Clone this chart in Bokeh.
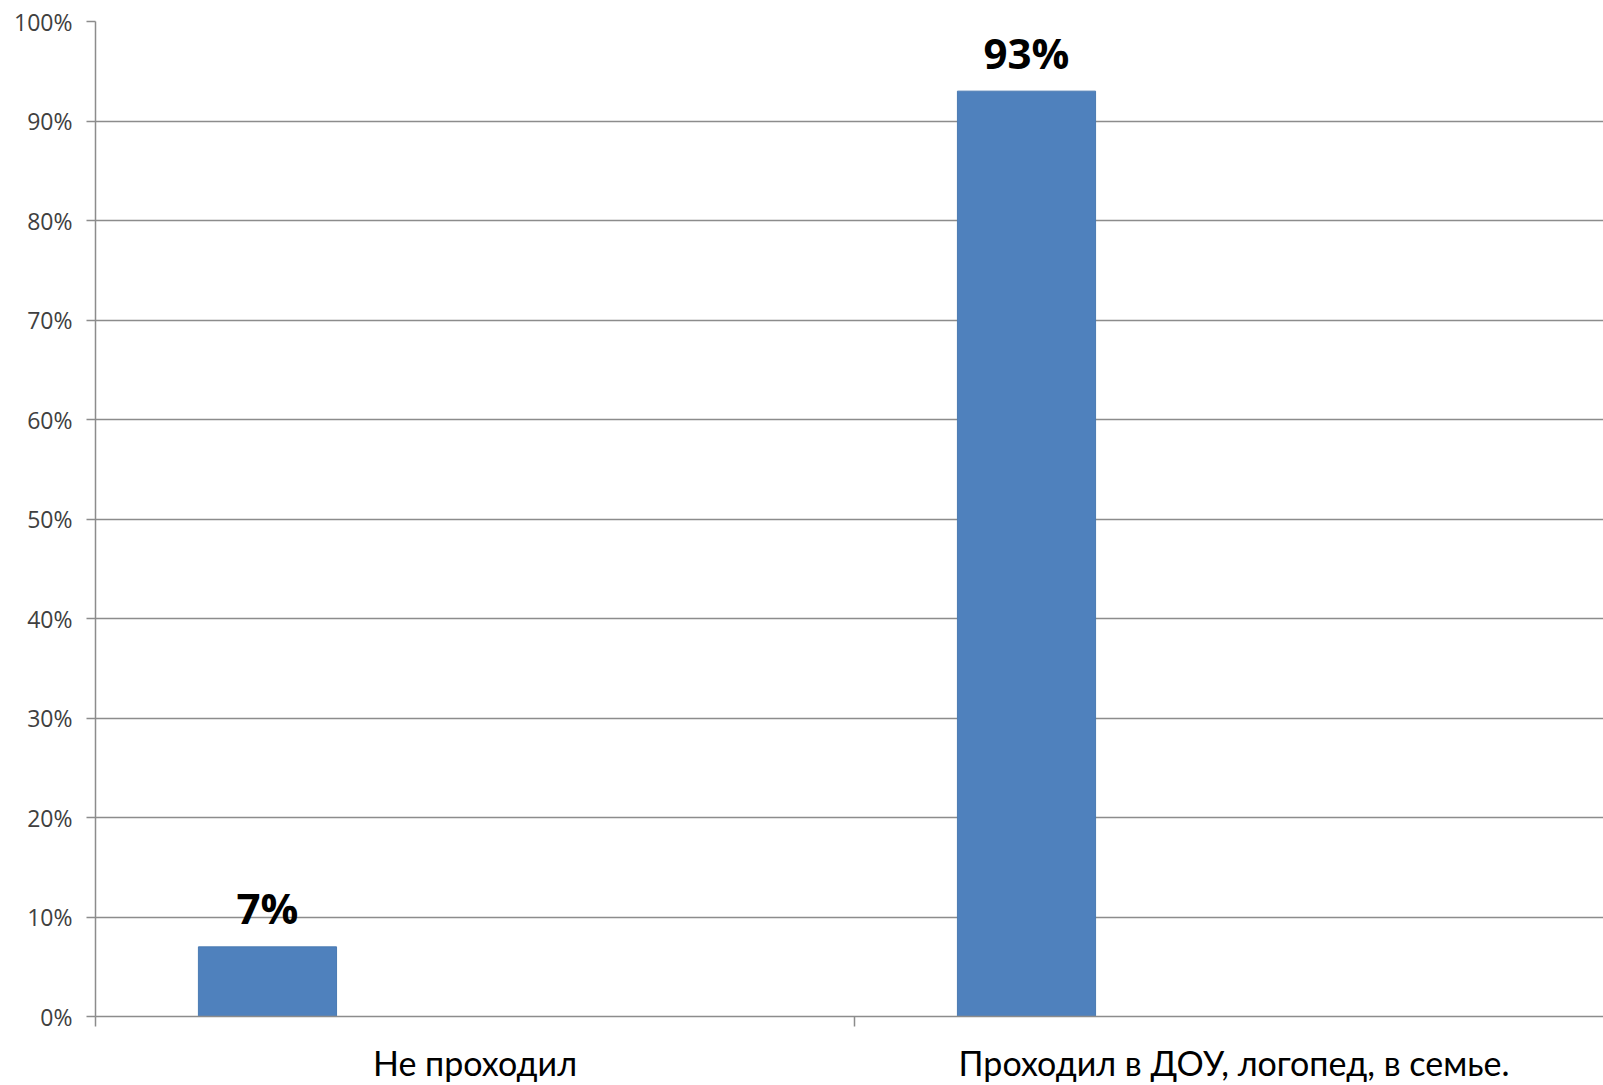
from bokeh.plotting import figure
from bokeh.models import ColumnDataSource, Range1d, FixedTicker, NumeralTickFormatter
from bokeh.core.properties import value
from bokeh.embed import file_html
from bokeh.resources import INLINE

categories = ["Не проходил", "Проходил в ДОУ, логопед, в семье."]
values = [0.07, 0.93]
labels = ["7%", "93%"]
y_ticks = [0.0, 0.1, 0.2, 0.3, 0.4, 0.5, 0.6, 0.7, 0.8, 0.9, 1.0]

cat_centers = [i + 0.5 for i in range(len(categories))]
bar_x = [i + 0.2266 for i in range(len(categories))]

src = ColumnDataSource(dict(x=bar_x, top=values, label=labels))

p = figure(width=1603, height=1085, output_backend="svg", toolbar_location=None,
           x_range=Range1d(0, 1.9868), y_range=Range1d(0, 1.0),
           min_border_left=95, min_border_right=0, min_border_top=21, min_border_bottom=68)
p.outline_line_color = None
p.background_fill_color = "white"

p.vbar(x="x", top="top", bottom=0, width=0.182, source=src,
       fill_color="#4F81BD", line_color="#4A7AB2", line_width=1)
p.text(x="x", y="top", text="label", source=src, text_align="center",
       text_baseline="alphabetic", y_offset=-39, text_font=value("Open Sans"),
       text_font_style="bold", text_font_size="42px", text_color="#000000")

# y axis
p.yaxis.ticker = FixedTicker(ticks=y_ticks)
p.yaxis.formatter = NumeralTickFormatter(format="0%")
p.yaxis.major_label_text_font = "Open Sans"
p.yaxis.major_label_text_font_size = "23px"
p.yaxis.major_label_text_color = "#404040"
p.yaxis.major_tick_out = 9
p.yaxis.major_tick_in = 0
p.yaxis.minor_tick_line_color = None
p.yaxis.major_label_standoff = 14
p.yaxis.axis_line_color = "#8c8c8c"
p.yaxis.axis_line_width = 1.5
p.yaxis.major_tick_line_color = "#8c8c8c"
p.yaxis.major_tick_line_width = 1.5

# x axis
p.xaxis.ticker = FixedTicker(ticks=cat_centers, minor_ticks=[0, 1, 2])
p.xaxis.major_label_overrides = {c: n for c, n in zip(cat_centers, categories)}
p.xaxis.major_label_text_font = "Lato"
p.xaxis.major_label_text_font_size = "34px"
p.xaxis.major_label_text_color = "#000000"
p.xaxis.major_tick_out = 0
p.xaxis.major_tick_in = 0
p.xaxis.minor_tick_out = 10
p.xaxis.minor_tick_in = 0
p.xaxis.major_label_standoff = 15
p.xaxis.axis_line_color = "#8c8c8c"
p.xaxis.axis_line_width = 1.5
p.xaxis.minor_tick_line_color = "#8c8c8c"
p.xaxis.minor_tick_line_width = 1.5

p.xgrid.visible = False
p.ygrid.ticker = FixedTicker(ticks=y_ticks)
p.ygrid.grid_line_color = "#8c8c8c"
p.ygrid.grid_line_width = 1.5

open("out.html", "w").write(file_html(p, INLINE))
